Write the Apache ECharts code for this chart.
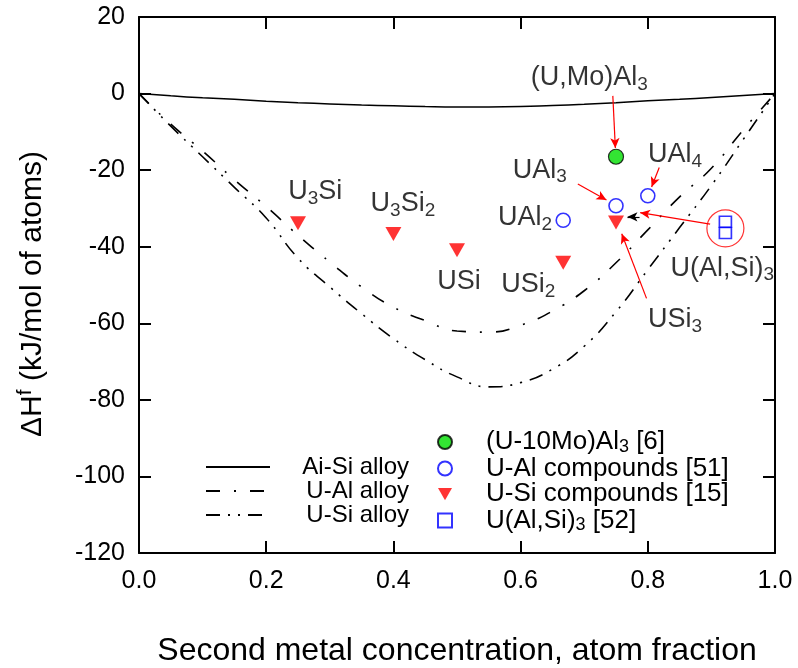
<!DOCTYPE html>
<html>
<head>
<meta charset="utf-8">
<script src="https://cdn.jsdelivr.net/npm/echarts@6/dist/echarts.min.js"></script>
<style>
  html, body { margin: 0; padding: 0; background: #fff; }
  #chart { width: 798px; height: 668px; }
</style>
</head>
<body>
<div id="chart"></div>
<script>
// Composition grid of the alloy curves (atom fraction of the second metal)
const alloyX = [0, 0.05, 0.1, 0.15, 0.2, 0.25, 0.3, 0.35, 0.4, 0.45, 0.5,
                0.55, 0.6, 0.65, 0.7, 0.75, 0.8, 0.85, 0.9, 0.95, 1.0];
// Formation enthalpy of the alloys, kJ/mol of atoms
const aiSiAlloy = [0, -0.6, -1.1, -1.5, -2.0, -2.4, -2.7, -3.0, -3.2, -3.4, -3.5,
                   -3.5, -3.4, -3.1, -2.8, -2.4, -1.9, -1.5, -1.0, -0.5, 0];
const uAlAlloy  = [0, -8, -15, -22.5, -29.5, -37, -44, -50.5, -55.8, -59.3, -62,
                   -62.3, -60.5, -56.8, -51.5, -44.2, -35.6, -27, -19.5, -9.5, 0];
const uSiAlloy  = [0, -8.5, -16.5, -24.5, -32.5, -43, -50.5, -57.5, -64, -69.5, -74,
                   -76.6, -75.5, -72, -66, -57, -46, -35, -24, -12, 0];

// Compounds: [atom fraction, enthalpy]
const uMoAl3      = [[0.75, -16.5]];
const uAlCompound = [[0.667, -33.1], [0.75, -29.3], [0.8, -26.7]];
const uSiCompound = [[0.25, -33.9], [0.4, -36.7], [0.5, -40.9], [0.667, -44.2], [0.75, -33.7]];
const uAlSi3      = [[0.922, -33.5], [0.922, -36.4]];

// Axis ticks
const xTicks = [0, 0.2, 0.4, 0.6, 0.8, 1.0];
const yTicks = [-120, -100, -80, -60, -40, -20, 0, 20];

// Compound names and where their labels sit
const compoundLabels = [
  { text: '(U,Mo)Al{s|3}', at: [0.708, 4.1] },
  { text: 'UAl{s|4}',      at: [0.843, -16.0] },
  { text: 'UAl{s|3}',      at: [0.630, -20.0] },
  { text: 'UAl{s|2}',      at: [0.607, -32.5] },
  { text: 'U{s|3}Si',      at: [0.277, -25.7] },
  { text: 'U{s|3}Si{s|2}', at: [0.415, -28.8] },
  { text: 'USi',           at: [0.503, -49.2] },
  { text: 'USi{s|2}',      at: [0.612, -50.0] },
  { text: 'USi{s|3}',      at: [0.843, -59.1] },
  { text: 'U(Al,Si){s|3}', at: [0.917, -45.6] }
];

// Pointer arrows from labels to their markers
const pointers = [
  { from: [0.745, -0.6],  to: [0.749, -14.2], color: '#ff0000' },
  { from: [0.818, -19.3], to: [0.806, -24.4], color: '#ff0000' },
  { from: [0.690, -23.6], to: [0.735, -27.8], color: '#ff0000' },
  { from: [0.798, -53.5], to: [0.759, -36.6], color: '#ff0000' },
  { from: [0.898, -34.1], to: [0.788, -31.1], color: '#ff0000' },
  { from: [0.787, -32.2], to: [0.768, -32.2], color: '#000000' }
];
// Ring drawn around the U(Al,Si)3 points
const ringCentre = [[0.922, -35.2]];

const FONT = '"Liberation Sans", Arial, sans-serif';
const pairs = ys => alloyX.map((x, i) => [x, ys[i]]);

const labelRich = {
  n: { fontSize: 27, fontFamily: FONT, color: '#000' },
  s: { fontSize: 19, fontFamily: FONT, color: '#000', padding: [14, 0, 0, 0] }
};

const legendNames = {
  'Ai-Si alloy': 'Ai-Si alloy',
  'U-Al alloy': 'U-Al alloy',
  'U-Si alloy': 'U-Si alloy',
  '(U-10Mo)Al3 [6]': '{n|(U-10Mo)Al}{s|3}{n| [6]}',
  'U-Al compounds [51]': '{n|U-Al compounds [51]}',
  'U-Si compounds [15]': '{n|U-Si compounds [15]}',
  'U(Al,Si)3 [52]': '{n|U(Al,Si)}{s|3}{n| [52]}'
};

const axisLineStyle = { color: '#000', width: 2 };
const tickStyle = { show: true, inside: true, length: 12, lineStyle: { color: '#000', width: 2 } };

const triangleDown = 'path://M0,0 L16,0 L8,14 Z';

const chart = echarts.init(document.getElementById('chart'));
chart.setOption({
  animation: false,
  backgroundColor: '#fff',
  textStyle: { fontFamily: FONT },
  grid: { left: 139, right: 23, top: 17, bottom: 115, containLabel: false, outerBoundsMode: 'none' },
  xAxis: [{
    type: 'value', min: xTicks[0], max: xTicks[xTicks.length - 1], interval: 0.2,
    position: 'bottom',
    name: 'Second metal concentration, atom fraction',
    nameLocation: 'middle', nameGap: 82,
    nameTextStyle: { fontSize: 32, color: '#000', fontFamily: FONT },
    axisLine: { show: true, onZero: false, lineStyle: axisLineStyle },
    axisTick: tickStyle,
    axisLabel: { fontSize: 25, color: '#000', margin: 16, fontFamily: FONT,
                 formatter: v => v.toFixed(1), showMinLabel: true, showMaxLabel: true },
    splitLine: { show: false }
  }, {
    type: 'value', min: xTicks[0], max: xTicks[xTicks.length - 1], interval: 0.2,
    position: 'top',
    axisLine: { show: true, onZero: false, lineStyle: axisLineStyle },
    axisTick: tickStyle,
    axisLabel: { show: false },
    splitLine: { show: false }
  }],
  yAxis: [{
    type: 'value', min: yTicks[0], max: yTicks[yTicks.length - 1], interval: 20,
    position: 'left',
    name: '{a|ΔH}{p|f}{a| (kJ/mol of atoms)}',
    nameLocation: 'middle', nameGap: 89, nameRotate: 90,
    nameTextStyle: {
      fontSize: 30, color: '#000', fontFamily: FONT,
      padding: [0, 18, 0, 0],
      rich: {
        a: { fontSize: 30, color: '#000', fontFamily: FONT },
        p: { fontSize: 21, color: '#000', fontFamily: FONT, padding: [0, 0, 14, 0] }
      }
    },
    axisLine: { show: true, onZero: false, lineStyle: axisLineStyle },
    axisTick: tickStyle,
    axisLabel: { fontSize: 25, color: '#000', margin: 14, fontFamily: FONT,
                 showMinLabel: true, showMaxLabel: true },
    splitLine: { show: false }
  }, {
    type: 'value', min: yTicks[0], max: yTicks[yTicks.length - 1], interval: 20,
    position: 'right',
    axisLine: { show: true, onZero: false, lineStyle: axisLineStyle },
    axisTick: tickStyle,
    axisLabel: { show: false },
    splitLine: { show: false }
  }],
  legend: [{
    data: ['Ai-Si alloy', 'U-Al alloy', 'U-Si alloy'],
    orient: 'vertical', left: 200, top: 450,
    itemWidth: 64, itemHeight: 10, itemGap: 0,
    itemStyle: { color: 'rgba(0,0,0,0)', borderWidth: 0, opacity: 0 },
    formatter: name => '{r|' + legendNames[name] + '}',
    textStyle: {
      fontSize: 24, color: '#000', fontFamily: FONT, lineHeight: 24,
      rich: { r: { width: 134, align: 'right', fontSize: 24, fontFamily: FONT, color: '#000', lineHeight: 24 } }
    }
  }, {
    data: ['(U-10Mo)Al3 [6]', 'U-Al compounds [51]', 'U-Si compounds [15]', 'U(Al,Si)3 [52]'],
    orient: 'vertical', left: 437, top: 428, padding: 0,
    itemWidth: 14, itemHeight: 14, itemGap: -0.5,
    formatter: name => legendNames[name],
    textStyle: {
      fontSize: 26, color: '#000', fontFamily: FONT, lineHeight: 24,
      padding: [0, 0, 0, 29],
      rich: {
        n: { fontSize: 26, color: '#000', fontFamily: FONT, lineHeight: 24 },
        s: { fontSize: 18, color: '#000', fontFamily: FONT, lineHeight: 14, padding: [10, 0, 0, 0] }
      }
    }
  }],
  series: [
    {
      name: 'Ai-Si alloy', type: 'line', data: pairs(aiSiAlloy), smooth: true,
      showSymbol: false, symbol: 'none',
      lineStyle: { color: '#000', width: 1.5, type: 'solid' }, itemStyle: { color: '#000' }
    },
    {
      name: 'U-Al alloy', type: 'line', data: pairs(uAlAlloy), smooth: true,
      showSymbol: false, symbol: 'none',
      lineStyle: { color: '#000', width: 1.6, type: [14, 14, 2, 14] }, itemStyle: { color: '#000' }
    },
    {
      name: 'U-Si alloy', type: 'line', data: pairs(uSiAlloy), smooth: true,
      showSymbol: false, symbol: 'none',
      lineStyle: { color: '#000', width: 1.6, type: [14, 8, 2, 8, 2, 8] }, itemStyle: { color: '#000' }
    },
    {
      name: '(U-10Mo)Al3 [6]', type: 'scatter', data: uMoAl3, symbol: 'circle', symbolSize: 15,
      itemStyle: { color: '#00dd00', borderColor: '#000', borderWidth: 1.2 }, z: 5
    },
    {
      name: 'U-Al compounds [51]', type: 'scatter', data: uAlCompound, symbol: 'circle', symbolSize: 14,
      itemStyle: { color: 'rgba(255,255,255,0)', borderColor: '#0000ff', borderWidth: 1.6 }, z: 5
    },
    {
      name: 'U-Si compounds [15]', type: 'scatter', data: uSiCompound, symbol: triangleDown, symbolSize: [16, 14],
      itemStyle: { color: '#ff0000' }, z: 5
    },
    {
      name: 'U(Al,Si)3 [52]', type: 'scatter', data: uAlSi3, symbol: 'rect', symbolSize: [12, 11],
      itemStyle: { color: 'rgba(255,255,255,0)', borderColor: '#0000ff', borderWidth: 1.6 }, z: 5
    },
    {
      name: 'ring', type: 'scatter', data: ringCentre, symbol: 'circle', symbolSize: 37, silent: true,
      itemStyle: { color: 'rgba(255,255,255,0)', borderColor: '#ff0000', borderWidth: 1.2 }, z: 4
    },
    {
      name: 'labels', type: 'scatter', silent: true, z: 6,
      data: compoundLabels.map(d => ({ value: d.at, name: d.text })),
      symbolSize: 0.1, itemStyle: { color: 'rgba(0,0,0,0)' },
      label: {
        show: true, position: 'inside',
        formatter: p => p.name.split(/(\{s\|[^}]*\})/).filter(Boolean)
          .map(t => t.startsWith('{s|') ? t : '{n|' + t + '}').join(''),
        rich: labelRich
      },
      markLine: {
        silent: true, symbol: ['none', 'arrow'], symbolSize: [7, 10],
        label: { show: false },
        emphasis: { disabled: true },
        data: pointers.map(a => [
          { coord: a.from, lineStyle: { color: a.color, width: 1.2, type: 'solid' } },
          { coord: a.to }
        ])
      }
    }
  ]
});
</script>
</body>
</html>
